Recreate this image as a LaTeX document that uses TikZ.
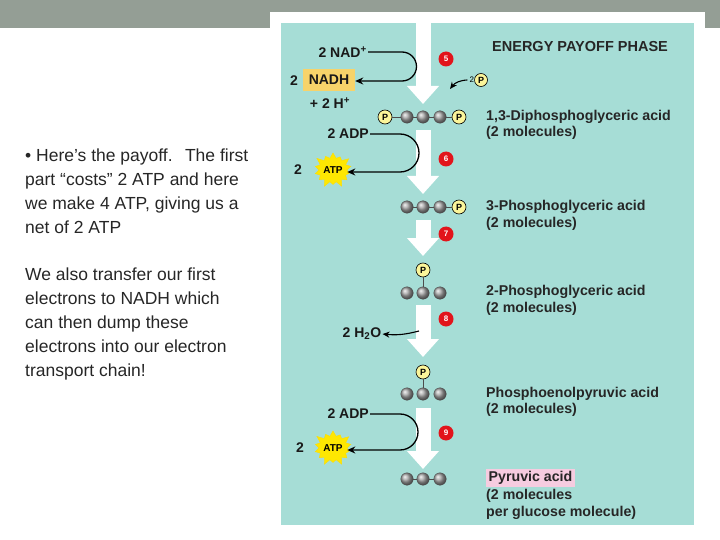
\documentclass[tikz,border=0pt]{standalone}
\usepackage{fontspec}
\setmainfont{Liberation Sans}
\usetikzlibrary{arrows.meta,shapes.symbols}
\definecolor{gband}{HTML}{949E95}
\definecolor{teal}{HTML}{A6DDD6}
\definecolor{nadh}{HTML}{F7D36A}
\definecolor{pyr}{HTML}{F6CCE0}
\definecolor{stepred}{HTML}{E2141B}
\definecolor{pyel}{HTML}{FBF59A}
\tikzset{
  x=1pt,y=-1pt,
  carb/.style={circle,inner sep=0pt,minimum size=12.5pt,ball color=gray!70,draw=gray!60!black,line width=0.3pt},
  phos/.style={circle,inner sep=0pt,minimum size=14pt,fill=pyel,draw=black,line width=0.6pt,font=\bfseries\fontsize{9}{9}\selectfont},
  stepnum/.style={circle,inner sep=0pt,minimum size=15pt,fill=stepred,text=white,font=\bfseries\fontsize{8}{8}\selectfont},
  bigarrow/.style={draw=white,line width=15pt,-{Triangle[width=31pt,length=18pt]}},
  curv/.style={line width=1.3pt,-{Stealth[length=8pt,width=7pt]}},
  bond/.style={line width=0.8pt,draw=black!70},
  lbl/.style={font=\bfseries\fontsize{14.2}{16}\selectfont,text=black!85,anchor=west,inner sep=0pt,align=left},
  mol/.style={font=\bfseries\fontsize{14}{16}\selectfont,text=black!90,inner sep=1pt},
  atp/.style={starburst,starburst points=14,starburst point height=7pt,fill=yellow!90!orange,draw=yellow!80!orange,minimum width=42pt,minimum height=38pt,inner sep=0pt,font=\bfseries\fontsize{10}{10}\selectfont},
  body/.style={font=\fontsize{17.5}{24}\selectfont,text=black!85,anchor=north west,align=left,inner sep=0pt}
}
\begin{document}
\begin{tikzpicture}
\useasboundingbox (0,0) rectangle (720,540);
\fill[gband] (0,0) rectangle (720,28);
\fill[white] (270,12) rectangle (705,540);
\fill[teal] (281,23) rectangle (694,525);
% left text
\node[body] (t1) at (25,149) {• Here’s the payoff.\,\, The first\\part “costs” 2 ATP and here\\we make 4 ATP, giving us a\\net of 2 ATP};
\node[body] (t2) at (25,268) {We also transfer our first\\electrons to NADH which\\can then dump these\\electrons into our electron\\transport chain!};
% big arrows
\coordinate (a5s) at (423,23); \coordinate (a5e) at (423,104);
\coordinate (a6s) at (423,130); \coordinate (a6e) at (423,194);
\coordinate (a7s) at (423,220); \coordinate (a7e) at (423,256);
\coordinate (a8s) at (423,305); \coordinate (a8e) at (423,357);
\coordinate (a9s) at (423,408); \coordinate (a9e) at (423,469);
\foreach \s/\e in {a5s/a5e,a6s/a6e,a7s/a7e,a8s/a8e,a9s/a9e} \draw[bigarrow] (\s) -- (\e);
% step numbers
\node[stepnum] (s5) at (446,59) {5};
\node[stepnum] (s6) at (446,159) {6};
\node[stepnum] (s7) at (446,234) {7};
\node[stepnum] (s8) at (446,319) {8};
\node[stepnum] (s9) at (446,433) {9};
% title
\node[lbl,font=\bfseries\fontsize{14.5}{16}\selectfont] (title) at (492,47) {ENERGY PAYOFF PHASE};
% step 5
\node[mol,anchor=east] (nad) at (368,52) {2 NAD\textsuperscript{+}};
\node[mol,fill=nadh,minimum width=52pt,minimum height=22pt] (nadh) at (329,80) {NADH};
\node[mol] (two1) at (294,81) {2};
\node[mol] (h) at (330,103) {+ 2 H\textsuperscript{+}};
\draw[curv] (nad.east) -- (402,52) arc(-90:90:14.5) -- (nadh.east |- 402,81);
\node[phos,minimum size=13pt] (pi) at (481,80) {P};
\node[font=\fontsize{8}{8}\selectfont,inner sep=0pt,anchor=east] (pi2) at (pi.west) {2};
\draw[line width=1.1pt,-{Stealth[length=7pt,width=6pt]}] (pi2.west) ++(-2,0) coordinate (pa) (pa) to[bend right=25] (450,89);
% 1,3-DPG
\node[phos] (d1) at (385,117) {P};
\node[carb] (d2) at (407,117) {};
\node[carb] (d3) at (423,117) {};
\node[carb] (d4) at (440,117) {};
\node[phos] (d5) at (459,117) {P};
\draw[bond] (d1)--(d2) (d2)--(d3) (d3)--(d4) (d4)--(d5);
\node[lbl] (l1) at (486,117) {1,3-Diphosphoglyceric acid};
\node[lbl] (l1b) at (486,133) {(2 molecules)};
% step 6
\node[mol,anchor=east] (adp1) at (370,134) {2 ADP};
\node[atp] (atp1) at (333,170) {ATP};
\node[mol] (two2) at (298,170) {2};
\draw[curv] (adp1.east) -- (400,134) arc(-90:90:19) -- (atp1.east |- 400,172);
% 3PG
\node[carb] (e1) at (407,207) {};
\node[carb] (e2) at (423,207) {};
\node[carb] (e3) at (440,207) {};
\node[phos] (e4) at (459,207) {P};
\draw[bond] (e1)--(e2) (e2)--(e3) (e3)--(e4);
\node[lbl] (l2) at (486,207) {3-Phosphoglyceric acid};
\node[lbl] (l2b) at (486,224) {(2 molecules)};
% 2PG
\node[phos] (f0) at (423,270) {P};
\node[carb] (f1) at (407,293) {};
\node[carb] (f2) at (423,293) {};
\node[carb] (f3) at (440,293) {};
\draw[bond] (f0)--(f2);
\node[lbl] (l3) at (486,292) {2-Phosphoglyceric acid};
\node[lbl] (l3b) at (486,309) {(2 molecules)};
% step 8
\node[mol] (h2o) at (362,334) {2 H\textsubscript{2}O};
\coordinate (w0) at (419,331);
\draw[line width=1.1pt,-{Stealth[length=7pt,width=6pt]}] (w0) to[bend left=10] (h2o.east);
% PEP
\node[phos] (g0) at (423,372) {P};
\node[carb] (g1) at (407,394) {};
\node[carb] (g2) at (423,394) {};
\node[carb] (g3) at (440,394) {};
\draw[bond] (g0)--(g2);
\node[lbl] (l4) at (486,394) {Phosphoenolpyruvic acid};
\node[lbl] (l4b) at (486,410) {(2 molecules)};
% step 9
\node[mol,anchor=east] (adp2) at (370,414) {2 ADP};
\node[atp] (atp2) at (333,448) {ATP};
\node[mol] (two3) at (300,448) {2};
\draw[curv] (adp2.east) -- (400,414) arc(-90:90:18) -- (atp2.east |- 400,450);
% pyruvate
\node[carb] (p1) at (407,479) {};
\node[carb] (p2) at (423,479) {};
\node[carb] (p3) at (440,479) {};
\draw[bond] (p1)--(p2) (p2)--(p3);
\node[lbl,fill=pyr,inner sep=2.5pt] (l5) at (486,478) {Pyruvic acid};
\node[lbl] (l5b) at (486,496) {(2 molecules};
\node[lbl] (l5c) at (486,513) {per glucose molecule)};
\end{tikzpicture}
\end{document}
